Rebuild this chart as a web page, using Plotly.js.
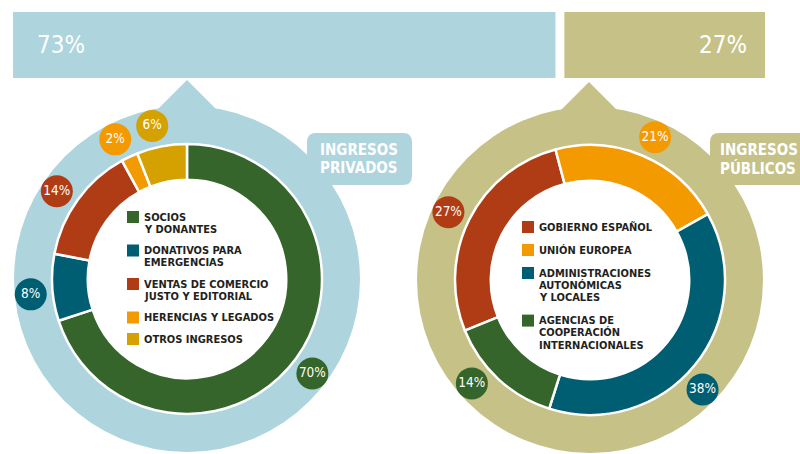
<!DOCTYPE html>
<html><head><meta charset="utf-8">
<script src="https://cdn.plot.ly/plotly-3.0.1.min.js"></script>
<style>html,body{margin:0;padding:0;background:#fff}#chart{width:800px;height:454px}</style>
</head><body><div id="chart"></div>
<script>
// ---------- DATA ----------
const shareLabels = ['73%', '27%'];
const shareValues = [73, 27];

const privLabels = [['SOCIOS', 'Y DONANTES'], ['DONATIVOS PARA', 'EMERGENCIAS'], ['VENTAS DE COMERCIO', 'JUSTO Y EDITORIAL'], ['HERENCIAS Y LEGADOS'], ['OTROS INGRESOS']];
const privValues = [70, 8, 14, 2, 6];

const pubLabels = [['GOBIERNO ESPAÑOL'], ['UNIÓN EUROPEA'], ['ADMINISTRACIONES', 'AUTONÓMICAS', 'Y LOCALES'], ['AGENCIAS DE', 'COOPERACIÓN', 'INTERNACIONALES']];
const pubValues = [27, 21, 38, 14];

const groupTitles = [['INGRESOS', 'PRIVADOS'], ['INGRESOS', 'PÚBLICOS']];

// ---------- STYLE ----------
const C = {green:'#35652a', teal:'#005e72', red:'#b03c16', orange:'#f39a00', gold:'#d5a100',
           blue:'#aed4dd', khaki:'#c6c287', text:'#231f20'};
const privColors = [C.green, C.teal, C.red, C.orange, C.gold];
const pubColors = [C.red, C.orange, C.teal, C.green];
const FONT = '"DejaVu Sans Condensed", "Liberation Sans Narrow", "DejaVu Sans", sans-serif';
const W = 800, H = 454;

// geometry (pixels) and small angular nudges of the percentage badges
const L = {cx:187, cy:279, r:135, ring:173, rot:0, nudge:[1, -2, -2, -2, -2]};
const R = {cx:590, cy:280, r:135, ring:173, rot:248, nudge:[-1, 1.5, 5, 6]};
const LABEL_R = 157;

function pie(values, labels, colors, g) {
  return {type:'pie', values:values, labels:labels.map(l => l.join(' ')), sort:false,
    direction:'clockwise', rotation:g.rot, hole:0.735, textinfo:'none', hoverinfo:'label+percent',
    marker:{colors:colors, line:{color:'#ffffff', width:2.5}},
    domain:{x:[(g.cx-g.r)/W, (g.cx+g.r)/W], y:[(H-g.cy-g.r)/H, (H-g.cy+g.r)/H]}};
}

function labelPoints(values, g) {
  const total = values.reduce((a, b) => a + b, 0);
  let cum = 0; const xs = [], ys = [];
  values.forEach((v, i) => {
    const a = (g.rot + 360 * (cum + v / 2) / total + g.nudge[i]) * Math.PI / 180;
    xs.push(g.cx + LABEL_R * Math.sin(a)); ys.push(g.cy - LABEL_R * Math.cos(a));
    cum += v;
  });
  return {xs, ys};
}

function pctTrace(values, colors, g) {
  const p = labelPoints(values, g);
  return {type:'scatter', mode:'markers+text', x:p.xs, y:p.ys, xaxis:'x', yaxis:'y',
    text:values.map(v => v + '%'), textposition:'middle center',
    textfont:{family:FONT, size:13.5, color:'#ffffff', stretch:'condensed'},
    marker:{size:32, color:colors, line:{width:0}}, hoverinfo:'skip', cliponaxis:false};
}

// legend inside the donut holes
const annotations = [];
const legendSquares = {x:[], y:[], c:[]};
function legend(labels, colors, x0, y0, line, gap) {
  let y = y0;
  labels.forEach((lines, i) => {
    legendSquares.x.push(x0 + 6); legendSquares.y.push(y); legendSquares.c.push(colors[i]);
    lines.forEach((t, j) => {
      annotations.push({xref:'x', yref:'y', x:x0 + 15, y:y + j * line, text:t, showarrow:false,
        xanchor:'left', yanchor:'middle',
        font:{family:FONT, size:11, color:C.text, weight:'bold', stretch:'condensed'}});
    });
    y += (lines.length - 1) * line + gap;
  });
}
legend(privLabels, privColors, 127, 217, 12, 21.5);
legend(pubLabels, pubColors, 522, 227, 12.3, 23);

// top share labels
annotations.push({xref:'x', yref:'y', x:35, y:45, text:shareLabels[0], showarrow:false, xanchor:'left', yanchor:'middle',
  font:{family:FONT, size:24, color:'#ffffff', stretch:'condensed'}});
annotations.push({xref:'x', yref:'y', x:749, y:45, text:shareLabels[1], showarrow:false, xanchor:'right', yanchor:'middle',
  font:{family:FONT, size:24, color:'#ffffff', stretch:'condensed'}});

// group titles
groupTitles[0].forEach((t, j) => annotations.push({xref:'x', yref:'y', x:359, y:150 + j * 18, text:t, showarrow:false,
  xanchor:'center', yanchor:'middle', font:{family:FONT, size:15, color:'#ffffff', weight:'bold', stretch:'condensed'}}));
groupTitles[1].forEach((t, j) => annotations.push({xref:'x', yref:'y', x:718, y:150 + j * 18, text:t, showarrow:false,
  xanchor:'left', yanchor:'middle', font:{family:FONT, size:15, color:'#ffffff', weight:'bold', stretch:'condensed'}}));

function circle(g, r, color) {
  return {type:'circle', xref:'x', yref:'y', x0:g.cx - r, x1:g.cx + r, y0:g.cy - r, y1:g.cy + r,
    fillcolor:color, line:{width:0}, layer:'below'};
}
function tri(cx, top, color) {
  return {type:'path', xref:'x', yref:'y', path:`M ${cx-32} ${top+32} L ${cx} ${top} L ${cx+32} ${top+32} Z`,
    fillcolor:color, line:{width:0}, layer:'below'};
}
function rrect(x0, y0, x1, y1, r, color) {
  return {type:'path', xref:'x', yref:'y', layer:'below', fillcolor:color, line:{width:0},
    path:`M ${x0+r} ${y0} L ${x1-r} ${y0} Q ${x1} ${y0} ${x1} ${y0+r} L ${x1} ${y1-r} Q ${x1} ${y1} ${x1-r} ${y1} L ${x0+r} ${y1} Q ${x0} ${y1} ${x0} ${y1-r} L ${x0} ${y0+r} Q ${x0} ${y0} ${x0+r} ${y0} Z`};
}
const shapes = [
  circle(L, L.ring, C.blue), tri(L.cx, 80, C.blue), circle(L, 112, '#ffffff'),
  circle(R, R.ring, C.khaki), tri(R.cx - 1, 82, C.khaki), circle(R, 112, '#ffffff'),
  rrect(307, 133, 412, 185, 9, C.blue), rrect(710, 133, 830, 185, 9, C.khaki)
];

const GAP = 1.2;
const data = [
  {type:'bar', orientation:'h', y:[0], x:[shareValues[0]], base:[0], width:1, xaxis:'x2', yaxis:'y2',
   marker:{color:C.blue, line:{width:0}}, hoverinfo:'x'},
  {type:'bar', orientation:'h', y:[0], x:[shareValues[1]], base:[shareValues[0] + GAP], width:1, xaxis:'x2', yaxis:'y2',
   marker:{color:C.khaki, line:{width:0}}, hoverinfo:'x'},
  pie(privValues, privLabels, privColors, L),
  pie(pubValues, pubLabels, pubColors, R),
  pctTrace(privValues, privColors, L),
  pctTrace(pubValues, pubColors, R),
  {type:'scatter', mode:'markers', x:legendSquares.x, y:legendSquares.y, xaxis:'x', yaxis:'y',
   marker:{symbol:'square', size:12, color:legendSquares.c, line:{width:0}}, hoverinfo:'skip'}
];

const layout = {
  width:W, height:H, margin:{l:0, r:0, t:0, b:0, pad:0}, showlegend:false, barmode:'overlay',
  paper_bgcolor:'#ffffff', plot_bgcolor:'rgba(0,0,0,0)',
  xaxis:{range:[0, W], domain:[0, 1], autorange:false, visible:false, fixedrange:true},
  yaxis:{range:[H, 0], domain:[0, 1], autorange:false, visible:false, fixedrange:true},
  xaxis2:{range:[0, 100 + GAP], domain:[13 / W, 765 / W], autorange:false, visible:false, fixedrange:true, anchor:'y2'},
  yaxis2:{range:[-0.5, 0.5], domain:[(H - 78) / H, (H - 12) / H], autorange:false, visible:false, fixedrange:true, anchor:'x2'},
  shapes:shapes, annotations:annotations
};
Plotly.newPlot('chart', data, layout, {displayModeBar:false, staticPlot:true});
</script></body></html>
